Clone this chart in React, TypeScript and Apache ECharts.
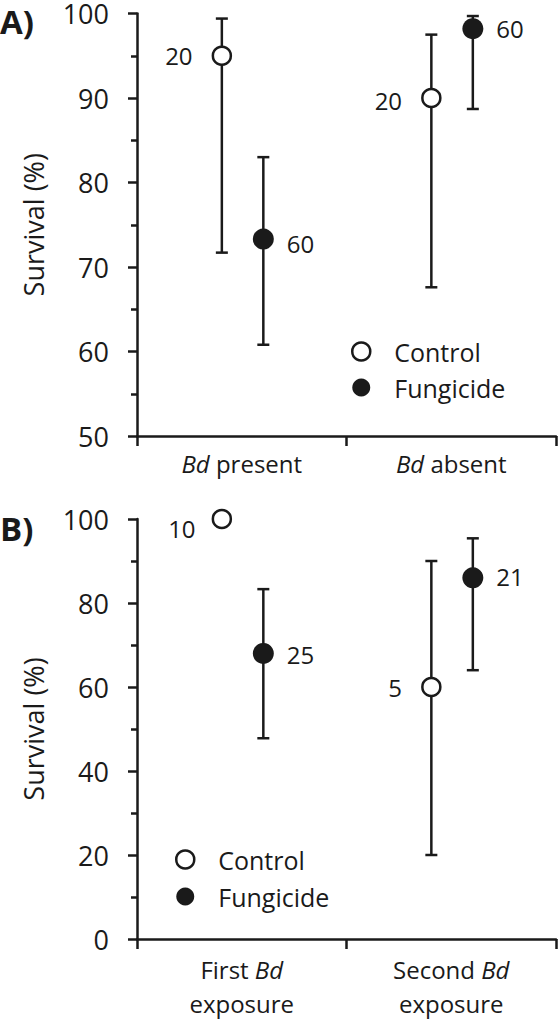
import React, { useEffect, useRef } from 'react';
import * as echarts from 'echarts';

// ---------- data ----------
const categoriesA = ['Bd present', 'Bd absent'];
const categoriesB = ['First Bd\nexposure', 'Second Bd\nexposure'];

const yTicksA = { min: 50, max: 100, interval: 10 };
const yTicksB = { min: 0, max: 100, interval: 20 };

// Panel A
const controlMeanA = [95, 90];
const controlLowA = [71.7, 67.6];
const controlHighA = [99.4, 97.5];
const controlNA = [20, 20];

const fungMeanA = [73.3, 98.2];
const fungLowA = [60.8, 88.7];
const fungHighA = [83.0, 99.7];
const fungNA = [60, 60];

// Panel B
const controlMeanB = [100, 60];
const controlLowB = [null, 20];
const controlHighB = [null, 90];
const controlNB = [10, 5];

const fungMeanB = [68, 86];
const fungLowB = [47.8, 64];
const fungHighB = [83.3, 95.4];
const fungNB = [25, 21];

// ---------- styling ----------
const INK = '#1a1a1a';
const FONT = '"Open Sans", "Noto Sans", sans-serif';
const DX_CONTROL = -0.095;
const DX_FUNG = 0.103;

function errorSeries(xAxisIndex: number, yAxisIndex: number, dx: number, lows: (number | null)[], highs: (number | null)[]) {
  const data: number[][] = [];
  lows.forEach((lo, i) => {
    const hi = highs[i];
    if (lo != null && hi != null) data.push([i + 0.5 + dx, lo, hi]);
  });
  return {
    type: 'custom',
    xAxisIndex,
    yAxisIndex,
    z: 2,
    silent: true,
    clip: false,
    encode: { x: 0, y: [1, 2] },
    data,
    renderItem: (_p: any, api: any) => {
      const x = api.value(0);
      const lo = api.coord([x, api.value(1)]);
      const hi = api.coord([x, api.value(2)]);
      const hw = 6;
      const style = { stroke: INK, lineWidth: 2.5, fill: null };
      return {
        type: 'group',
        children: [
          { type: 'line', shape: { x1: lo[0], y1: lo[1], x2: hi[0], y2: hi[1] }, style },
          { type: 'line', shape: { x1: lo[0] - hw, y1: lo[1], x2: lo[0] + hw, y2: lo[1] }, style },
          { type: 'line', shape: { x1: hi[0] - hw, y1: hi[1], x2: hi[0] + hw, y2: hi[1] }, style },
        ],
      };
    },
  };
}

function pointSeries(
  name: string,
  xAxisIndex: number,
  yAxisIndex: number,
  dx: number,
  means: number[],
  ns: number[],
  filled: boolean,
  nudges: number[][]
) {
  return {
    name,
    type: 'scatter',
    xAxisIndex,
    yAxisIndex,
    z: 5,
    symbol: 'circle',
    symbolSize: filled ? 21 : 18,
    itemStyle: filled
      ? { color: INK, borderColor: INK, borderWidth: 0, opacity: 1 }
      : { color: '#ffffff', borderColor: INK, borderWidth: 2.5, opacity: 1 },
    encode: { x: 0, y: 1 },
    label: {
      show: true,
      position: filled ? 'right' : 'left',
      distance: filled ? 13 : 19,
      formatter: (p: any) => String(p.value[2]),
      fontSize: 24,
      fontFamily: FONT,
      color: INK,
    },
    data: means.map((m, i) => ({
      value: [i + 0.5 + dx, m, ns[i]],
      label: { offset: nudges[i] },
    })),
  };
}

function catAxis(gridIndex: number, data: string[], margin: number) {
  return {
    type: 'category',
    gridIndex,
    data,
    boundaryGap: true,
    axisLine: { show: true, lineStyle: { color: INK, width: 2.5 } },
    axisTick: { show: true, alignWithLabel: false, length: 10, lineStyle: { color: INK, width: 2.5 } },
    axisLabel: {
      margin,
      fontSize: 24,
      fontFamily: FONT,
      color: INK,
      lineHeight: 34,
      interval: 0,
      formatter: (v: string) => v.replace('Bd', '{i|Bd}'),
      rich: {
        i: { fontStyle: 'italic', fontSize: 24, fontFamily: FONT, color: INK, lineHeight: 34 },
      },
    },
    splitLine: { show: false },
  };
}

function valAxis(gridIndex: number, t: { min: number; max: number; interval: number }) {
  return {
    type: 'value',
    gridIndex,
    min: t.min,
    max: t.max,
    interval: t.interval,
    name: 'Survival (%)',
    nameLocation: 'middle',
    nameGap: 90,
    nameTextStyle: { fontSize: 27, fontFamily: FONT, color: INK },
    axisLine: { show: true, lineStyle: { color: INK, width: 2.5 } },
    axisTick: { show: true, inside: false, length: 9, lineStyle: { color: INK, width: 2.5 } },
    minorTick: { show: true, splitNumber: 2, length: 6, lineStyle: { color: INK, width: 2.5 } },
    axisLabel: { margin: 28, fontSize: 27, lineHeight: 20, fontFamily: FONT, color: INK },
    splitLine: { show: false },
    minorSplitLine: { show: false },
  };
}

function hiddenX(gridIndex: number) {
  return { type: 'value', gridIndex, min: 0, max: 2, show: false, splitLine: { show: false } };
}

export default function App() {
  const ref = useRef<HTMLDivElement>(null);

  useEffect(() => {
    document.body.style.margin = '0';
    if (!ref.current) return;
    const chart = echarts.init(ref.current, null, { renderer: 'svg' });

    const legendText = { fontSize: 25, fontFamily: FONT, color: INK, padding: [0, 0, 0, 19], lineHeight: 24 };
    const legendData = [
      { name: 'Control', itemStyle: { color: '#ffffff', borderColor: INK, borderWidth: 2.5 } },
      { name: 'Fungicide', itemStyle: { color: INK, borderColor: INK, borderWidth: 0 } },
    ];
    const panelStyle = { fontSize: 33, fontWeight: 'bold', fontFamily: FONT, fill: INK };

    chart.setOption({
      animation: false,
      backgroundColor: '#ffffff',
      grid: [
        { left: 137, top: 11, width: 419, height: 425 },
        { left: 137, top: 519, width: 419, height: 423 },
      ],
      xAxis: [catAxis(0, categoriesA, 10), catAxis(1, categoriesB, 13), hiddenX(0), hiddenX(1)],
      yAxis: [valAxis(0, yTicksA), valAxis(1, yTicksB)],
      legend: [
        {
          orient: 'vertical',
          left: 346,
          top: 334,
          padding: 5,
          itemWidth: 18,
          itemHeight: 18,
          itemGap: 11,
          icon: 'circle',
          selectedMode: false,
          data: legendData,
          textStyle: legendText,
        },
        {
          orient: 'vertical',
          left: 170,
          top: 842,
          padding: 5,
          itemWidth: 18,
          itemHeight: 18,
          itemGap: 12,
          icon: 'circle',
          selectedMode: false,
          data: legendData,
          textStyle: legendText,
        },
      ],
      graphic: [
        { type: 'text', left: 0, top: 5, style: { text: 'A)', ...panelStyle } },
        { type: 'text', left: 0, top: 512, style: { text: 'B)', ...panelStyle } },
      ],
      series: [
        errorSeries(2, 0, DX_CONTROL, controlLowA, controlHighA),
        errorSeries(2, 0, DX_FUNG, fungLowA, fungHighA),
        errorSeries(3, 1, DX_CONTROL, controlLowB, controlHighB),
        errorSeries(3, 1, DX_FUNG, fungLowB, fungHighB),
        pointSeries('Control', 2, 0, DX_CONTROL, controlMeanA, controlNA, false, [[0, 0], [0, 2]]),
        pointSeries('Fungicide', 2, 0, DX_FUNG, fungMeanA, fungNA, true, [[0, 4], [0, 0]]),
        pointSeries('Control', 3, 1, DX_CONTROL, controlMeanB, controlNB, false, [[3, 9], [0, 0]]),
        pointSeries('Fungicide', 3, 1, DX_FUNG, fungMeanB, fungNB, true, [[0, 1], [0, -1]]),
      ],
    });

    return () => chart.dispose();
  }, []);

  return <div ref={ref} style={{ width: 559, height: 1020 }} />;
}
